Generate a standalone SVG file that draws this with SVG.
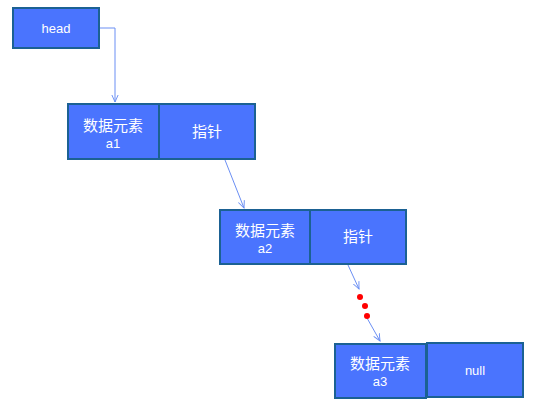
<svg xmlns="http://www.w3.org/2000/svg" width="546" height="411" viewBox="0 0 546 411">
<defs>
<style>
.box{fill:#4a74fe;stroke:#1b6193;stroke-width:2}
.t{fill:#ffffff;font-family:"Liberation Sans","Noto Sans CJK SC",sans-serif;text-anchor:middle}
.cn{font-size:15px;font-family:"Noto Sans CJK SC","Liberation Sans",sans-serif}
.sm{font-size:13px}
.ln{fill:none;stroke:#6b8ff4;stroke-width:1}
.dot{fill:#ff0000}
</style>
<marker id="arr" viewBox="0 0 10 10" refX="9" refY="5" markerWidth="8" markerHeight="8" orient="auto" markerUnits="userSpaceOnUse">
<path d="M0,1 L9,5 L0,9" fill="none" stroke="#6b8ff4" stroke-width="1.2"/>
</marker>
</defs>
<rect width="546" height="411" fill="#ffffff"/>
<g id="connectors">
<path class="ln" d="M99,28 H115 V102" marker-end="url(#arr)"/>
<path class="ln" d="M225,160 L244,208" marker-end="url(#arr)"/>
<path class="ln" d="M348,265 L359,289" marker-end="url(#arr)"/>
<path class="ln" d="M367,318 L380,341" marker-end="url(#arr)"/>
<circle class="dot" cx="360" cy="297" r="3"/>
<circle class="dot" cx="365" cy="306" r="3"/>
<circle class="dot" cx="367" cy="316" r="3"/>
</g>
<g id="head">
<rect class="box" x="13" y="8" width="86" height="40"/>
<text class="t sm" x="56" y="33">head</text>
</g>
<g id="node1">
<rect class="box" x="68" y="104" width="91" height="55"/>
<rect class="box" x="159" y="104" width="96" height="55"/>
<text class="t cn" x="113" y="131">数据元素</text>
<text class="t sm" x="113" y="148">a1</text>
<text class="t cn" x="207" y="137">指针</text>
</g>
<g id="node2">
<rect class="box" x="220" y="210" width="90" height="54"/>
<rect class="box" x="310" y="210" width="96" height="54"/>
<text class="t cn" x="265" y="236">数据元素</text>
<text class="t sm" x="265" y="253">a2</text>
<text class="t cn" x="358" y="242">指针</text>
</g>
<g id="node3">
<rect class="box" x="335" y="344" width="91" height="54"/>
<rect class="box" x="427" y="343" width="96" height="54"/>
<text class="t cn" x="380" y="369">数据元素</text>
<text class="t sm" x="380" y="386">a3</text>
<text class="t sm" x="475" y="375">null</text>
</g>
</svg>
